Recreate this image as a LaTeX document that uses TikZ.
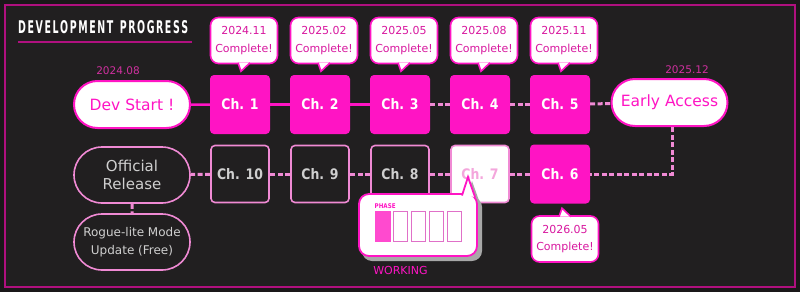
\documentclass[tikz,border=0pt]{standalone}
\usepackage{fontspec}
\setmainfont{DejaVu Sans}
\newfontfamily\chfont[FakeStretch=0.86]{DejaVu Sans}
\usetikzlibrary{shapes.misc}
\definecolor{bgout}{HTML}{1A1819}
\definecolor{bgin}{HTML}{211F20}
\definecolor{mag}{HTML}{FF14C4}
\definecolor{magtext}{HTML}{D8189F}
\definecolor{magdim}{HTML}{D0309F}
\definecolor{pinkln}{HTML}{F08AD4}
\definecolor{pinktxt}{HTML}{F4A6DC}
\definecolor{graytxt}{HTML}{CFCFCF}
\definecolor{framec}{HTML}{B0107F}
\definecolor{shadowc}{HTML}{A8A8A8}
\definecolor{phasefill}{HTML}{FF4ACF}
\definecolor{phaseln}{HTML}{E070C8}
\begin{document}
\begin{tikzpicture}[x=1pt,y=-1pt,
  chbox/.style={rectangle, rounded corners=4pt, minimum width=60pt, minimum height=59pt, inner sep=0pt,
    font=\chfont\bfseries\fontsize{14.5}{14.5}\selectfont},
  donebox/.style={chbox, fill=mag, text=white},
  todobox/.style={chbox, fill=bgin, draw=pinkln, line width=1.6pt, minimum width=58pt, minimum height=57pt, text=graytxt},
  wipbox/.style={chbox, fill=white, draw=pinkln, line width=1.6pt, minimum width=58pt, minimum height=57pt, text=pinktxt},
  pillbig/.style={rounded rectangle, fill=white, draw=mag, line width=2pt, minimum width=116pt, minimum height=47pt,
    inner sep=0pt, text=mag, font=\fontsize{15.5}{15.5}\selectfont},
  pilldark/.style={rounded rectangle, fill=bgin, draw=pinkln, line width=1.6pt, minimum width=116pt, minimum height=56pt,
    inner sep=0pt, align=center, text=graytxt},
  bubble/.style={rectangle, rounded corners=8pt, fill=white, draw=mag, line width=1.6pt, minimum width=67pt,
    minimum height=46pt, inner sep=0pt, align=center, text=magtext, font=\fontsize{11}{17.5}\selectfont},
  datelbl/.style={text=magdim, inner sep=0pt, font=\fontsize{10.5}{10.5}\selectfont},
  solidc/.style={draw=mag, line width=2.5pt},
  dashc/.style={draw=pinkln, line width=3pt, dash pattern=on 5pt off 2.5pt},
  tailfill/.style={fill=white},
  tailline/.style={draw=mag, line width=1.6pt, line join=miter}
]
\useasboundingbox (0,0) rectangle (800,292);
\fill[bgout] (0,0) rectangle (800,292);
\fill[bgin] (5,5) rectangle (795,287);
\draw[framec, line width=1.2pt] (5,5) rectangle (795,287);

% title
\node[anchor=west, inner sep=0pt, text=white] (title) at (18,27.5)
  {\resizebox{170pt}{13pt}{\bfseries D\,E\,V\,E\,L\,O\,P\,M\,E\,N\,T\ \ P\,R\,O\,G\,R\,E\,S\,S}};
\draw[framec, line width=1.5pt] ([yshift=-7.5pt]title.south west) -- ([yshift=-7.5pt,xshift=4pt]title.south east);

% top row
\node[pillbig] (dev) at (132,104.5) {Dev Start !};
\node[pillbig] (ea) at (669.5,102.5) {Early Access};
\node[datelbl] (devdate) at (118,70.5) {2024.08};
\node[datelbl] (eadate) at (687,69.5) {2025.12};

\node[donebox] (c1) at (240,104.5) {Ch. 1};
\node[donebox] (c2) at (320,104.5) {Ch. 2};
\node[donebox] (c3) at (400,104.5) {Ch. 3};
\node[donebox] (c4) at (480,104.5) {Ch. 4};
\node[donebox] (c5) at (560,104.5) {Ch. 5};

% bottom row
\node[donebox] (c6) at (560,174) {Ch. 6};
\node[wipbox] (c7) at (480,174) {Ch. 7};
\node[todobox] (c8) at (400,174) {Ch. 8};
\node[todobox] (c9) at (320,174) {Ch. 9};
\node[todobox] (c10) at (240,174) {Ch. 10};
\node[pilldark, font=\fontsize{15}{17.5}\selectfont] (off) at (132,175) {Official\\Release};
\node[pilldark, font=\fontsize{12}{18}\selectfont] (rogue) at (132,242) {Rogue-lite Mode\\Update (Free)};
\coordinate (corner) at (672,174);

% connectors
\draw[solidc] (dev) -- (c1);
\draw[solidc] (c1) -- (c2);
\draw[solidc] (c2) -- (c3);
\draw[dashc] (c3) -- (c4);
\draw[dashc] (c4) -- (c5);
\draw[dashc] (c5) -- (ea);
\draw[dashc] (ea.south -| corner) -- (corner) -- (c6);
\draw[dashc] (c6) -- (c7);
\draw[dashc] (c7) -- (c8);
\draw[dashc] (c8) -- (c9);
\draw[dashc] (c9) -- (c10);
\draw[dashc] (c10) -- (off);
\draw[dashc] (off) -- (rogue);

% top bubbles
\foreach \i/\x/\d in {1/244/2024.11, 2/324/2025.02, 3/404/2025.05, 4/484/2025.08, 5/564/2025.11} {
  \node[bubble] (b\i) at (\x,40.5) {\d\\Complete!};
  \fill[tailfill] ([shift={(-6,-1.5)}]b\i.south) -- ([shift={(-3,7)}]b\i.south) -- ([shift={(6,-1.5)}]b\i.south) -- cycle;
  \draw[tailline] ([shift={(-6,-1.5)}]b\i.south) -- ([shift={(-3,7)}]b\i.south) -- ([shift={(6,-1.5)}]b\i.south);
}

% bottom bubble
\node[bubble] (b6) at (565,239) {2026.05\\Complete!};
\fill[tailfill] ([shift={(-6,1.5)}]b6.north) -- ([shift={(-3,-7)}]b6.north) -- ([shift={(6,1.5)}]b6.north) -- cycle;
\draw[tailline] ([shift={(-6,1.5)}]b6.north) -- ([shift={(-3,-7)}]b6.north) -- ([shift={(6,1.5)}]b6.north);

% phase bubble
\node[rectangle, rounded corners=10pt, fill=shadowc, minimum width=120pt, minimum height=64pt, inner sep=0pt] (phshadow) at (422,229) {};
\fill[shadowc] (466,200.5) -- (472,181) -- (479,200.5) -- cycle;
\node[rectangle, rounded corners=10pt, fill=white, draw=mag, line width=1.8pt, minimum width=118pt, minimum height=62pt, inner sep=0pt] (ph) at (418,225) {};
\coordinate (ta) at (462,195.5);
\coordinate (tt) at (468,177);
\coordinate (tb) at (475,197);
\fill[white] (ta) -- (tt) -- (tb) -- cycle;
\draw[draw=mag, line width=1.8pt, line join=miter] (ta) -- (tt) -- (tb);
\node[anchor=west, inner sep=0pt, text=mag, font=\chfont\bfseries\fontsize{6.5}{6.5}\selectfont] (phlbl) at (374.5,206.5) {PHASE};
\node[rectangle, fill=phasefill, minimum width=16pt, minimum height=31pt, inner sep=0pt] (p1) at (383,226.5) {};
\foreach \j/\x in {2/400.5, 3/418.5, 4/436.5, 5/454.5} {
  \node[rectangle, fill=white, draw=phaseln, line width=1.2pt, minimum width=14pt, minimum height=30pt, inner sep=0pt] (p\j) at (\x,226.5) {};
}
\node[text=mag, inner sep=0pt, font=\fontsize{11}{11}\selectfont] (work) at (400.5,270) {WORKING};
\end{tikzpicture}
\end{document}
